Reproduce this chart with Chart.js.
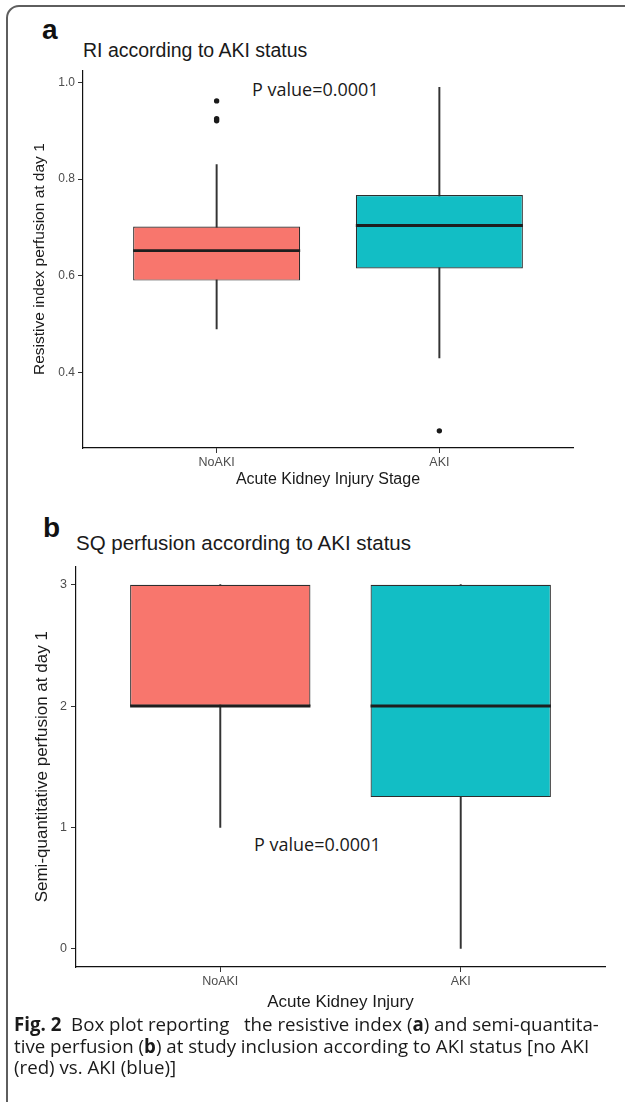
<!DOCTYPE html>
<html>
<head>
<meta charset="utf-8">
<script src="https://cdn.jsdelivr.net/npm/chart.js@4.4.0/dist/chart.umd.min.js"></script>
<style>
  html, body { margin: 0; padding: 0; background: #fff; }
  body { width: 625px; height: 1102px; position: relative; overflow: hidden; }
  .frame { position: absolute; left: 6px; top: 5px; width: 660px; height: 1140px;
           border: 2px solid #5e5e5e; border-top-left-radius: 13px; box-sizing: border-box; }
  canvas { position: absolute; left: 0; }
  .txt { position: absolute; white-space: nowrap; line-height: 1; color: #1a1a1a; }
  .sans { font-family: "Liberation Sans", Arial, sans-serif; }
  .open { font-family: "Open Sans", sans-serif; }
  .panel { font-weight: bold; font-size: 28px; color: #111; }
  .caption { position: absolute; left: 14px; top: 1013px; font-family: "Open Sans", sans-serif;
             font-size: 18.7px; line-height: 21.5px; color: #1a1a1a; white-space: nowrap; }
</style>
</head>
<body>
<div class="frame"></div>

<div class="txt sans panel" style="left:42px; top:16px;">a</div>
<div class="txt sans" style="left:83px; top:40.5px; font-size:19.5px;">RI according to AKI status</div>
<div class="txt open" style="left:252px; top:80px; font-size:18px;">P value=0.0001</div>

<div class="txt sans panel" style="left:43px; top:514px;">b</div>
<div class="txt sans" style="left:76px; top:532.5px; font-size:20.5px;">SQ perfusion according to AKI status</div>
<div class="txt open" style="left:254px; top:835px; font-size:18px;">P value=0.0001</div>

<canvas id="riChart" style="top:60px;" width="600" height="440"></canvas>
<canvas id="sqChart" style="top:555px;" width="625" height="465"></canvas>

<div class="caption"><b>Fig. 2</b>&nbsp; Box plot reporting &nbsp; the resistive index (<b>a</b>) and semi-quantita-<br>tive perfusion (<b>b</b>) at study inclusion according to AKI status [no AKI<br>(red) vs. AKI (blue)]</div>

<script>
// groups
const groups = ["NoAKI", "AKI"];
const groupColors = ["#F8766D", "#12BEC5"];

// RI (panel a)
const riLow = [0.49, 0.43];
const riQ1 = [0.59, 0.615];
const riMedian = [0.652, 0.704];
const riQ3 = [0.702, 0.767];
const riHigh = [0.83, 0.99];
const riOutliers = [[0.962, 0.921, 0.925], [0.279]];
const riTicks = [0.4, 0.6, 0.8, 1.0];

// SQ perfusion (panel b)
const sqLow = [1, 0];
const sqQ1 = [2, 1.25];
const sqMedian = [2, 2];
const sqQ3 = [3, 3];
const sqHigh = [3, 3];
const sqOutliers = [[], []];
const sqTicks = [0, 1, 2, 3];

// median bar across each box, placed with the chart's own y scale
const medianLines = {
    id: "medianLines",
    afterDatasetsDraw(chart, args, opts) {
        const meta = chart.getDatasetMeta(1);
        const y = chart.scales.y;
        const ctx = chart.ctx;
        ctx.save();
        ctx.strokeStyle = "#1e1e1e";
        ctx.lineWidth = 2.9;
        meta.data.forEach((bar, i) => {
            const py = y.getPixelForValue(opts.medians[i]);
            ctx.beginPath();
            ctx.moveTo(bar.x - bar.width / 2, py);
            ctx.lineTo(bar.x + bar.width / 2, py);
            ctx.stroke();
        });
        ctx.restore();
    }
};

function makeBoxChart(canvasId, box, s) {
    const all = box.low.concat(box.high, box.outliers.flat());
    const lo = Math.min(...all), hi = Math.max(...all);
    const pad = (hi - lo) * 0.05;

    const points = [];
    box.outliers.forEach((list, i) => list.forEach((v) => points.push({ x: i + 1, y: v })));

    return new Chart(document.getElementById(canvasId), {
        type: "bar",
        data: {
            datasets: [
                {
                    type: "scatter",
                    data: points,
                    backgroundColor: "#1a1a1a",
                    borderWidth: 0,
                    pointRadius: 2.7,
                    order: 0,
                },
                {
                    data: groups.map((g, i) => ({ x: i + 1, y: [box.q1[i], box.q3[i]] })),
                    backgroundColor: groupColors,
                    borderColor: "#2e2e2e",
                    borderWidth: 1.2,
                    borderSkipped: false,
                    barPercentage: 0.75,
                    categoryPercentage: 1,
                    grouped: false,
                    order: 1,
                },
                {
                    data: groups.map((g, i) => ({ x: i + 1, y: [box.low[i], box.high[i]] })),
                    backgroundColor: "#333",
                    barThickness: 1.3,
                    grouped: false,
                    order: 2,
                },
            ],
        },
        options: {
            responsive: false,
            animation: false,
            events: [],
            layout: { padding: { top: 8, right: s.right, left: 0, bottom: 0 } },
            plugins: {
                legend: { display: false },
                tooltip: { enabled: false },
                medianLines: { medians: box.median },
            },
            scales: {
                x: {
                    type: "linear",
                    min: 0.4,
                    max: 2.6,
                    offset: false,
                    afterBuildTicks: (sc) => { sc.ticks = groups.map((g, i) => ({ value: i + 1 })); },
                    afterFit: (sc) => { sc.height = s.xHeight; },
                    ticks: {
                        callback: (v) => groups[v - 1],
                        color: "#4d4d4d",
                        font: { family: "Liberation Sans", size: s.xTick },
                        padding: 2,
                        maxRotation: 0,
                    },
                    grid: { display: true, offset: false, drawOnChartArea: false, drawTicks: true, tickLength: 5, color: "#333" },
                    border: { display: true, color: "#111", width: 1.2 },
                    title: {
                        display: true,
                        text: s.xTitle,
                        color: "#1a1a1a",
                        font: { family: "Liberation Sans", size: s.xTitleSize },
                        padding: { top: 0, bottom: s.xTitlePad },
                    },
                },
                y: {
                    min: lo - pad,
                    max: hi + pad,
                    afterBuildTicks: (sc) => { sc.ticks = s.ticks.map((v) => ({ value: v })); },
                    afterFit: (sc) => { sc.width = s.yWidth; },
                    ticks: {
                        callback: s.fmt,
                        color: "#4d4d4d",
                        font: { family: "Liberation Sans", size: s.yTick },
                        padding: s.yTickPad,
                    },
                    grid: { display: true, drawOnChartArea: false, drawTicks: true, tickLength: 5, color: "#333" },
                    border: { display: true, color: "#111", width: 1.2 },
                    title: {
                        display: true,
                        text: s.yTitle,
                        color: "#1a1a1a",
                        font: { family: "Liberation Sans", size: s.yTitleSize },
                        padding: { top: s.yTitlePad, bottom: 0 },
                    },
                },
            },
        },
        plugins: [medianLines],
    });
}

makeBoxChart("riChart",
    { low: riLow, q1: riQ1, median: riMedian, q3: riQ3, high: riHigh, outliers: riOutliers },
    {
        ticks: riTicks, fmt: (v) => v.toFixed(1), right: 27, xHeight: 52, yWidth: 83,
        xTick: 12.5, yTick: 12, yTickPad: 3,
        xTitle: "Acute Kidney Injury Stage", xTitleSize: 16, xTitlePad: 10.4,
        yTitle: "Resistive index perfusion at day 1", yTitleSize: 15.5, yTitlePad: 30.7,
    });

makeBoxChart("sqChart",
    { low: sqLow, q1: sqQ1, median: sqMedian, q3: sqQ3, high: sqHigh, outliers: sqOutliers },
    {
        ticks: sqTicks, fmt: (v) => String(v), right: 20, xHeight: 53, yWidth: 76,
        xTick: 12.5, yTick: 12.5, yTickPad: 4,
        xTitle: "Acute Kidney Injury", xTitleSize: 17, xTitlePad: 7.8,
        yTitle: "Semi-quantitative perfusion at day 1", yTitleSize: 17, yTitlePad: 31.8,
    });
</script>
</body>
</html>
